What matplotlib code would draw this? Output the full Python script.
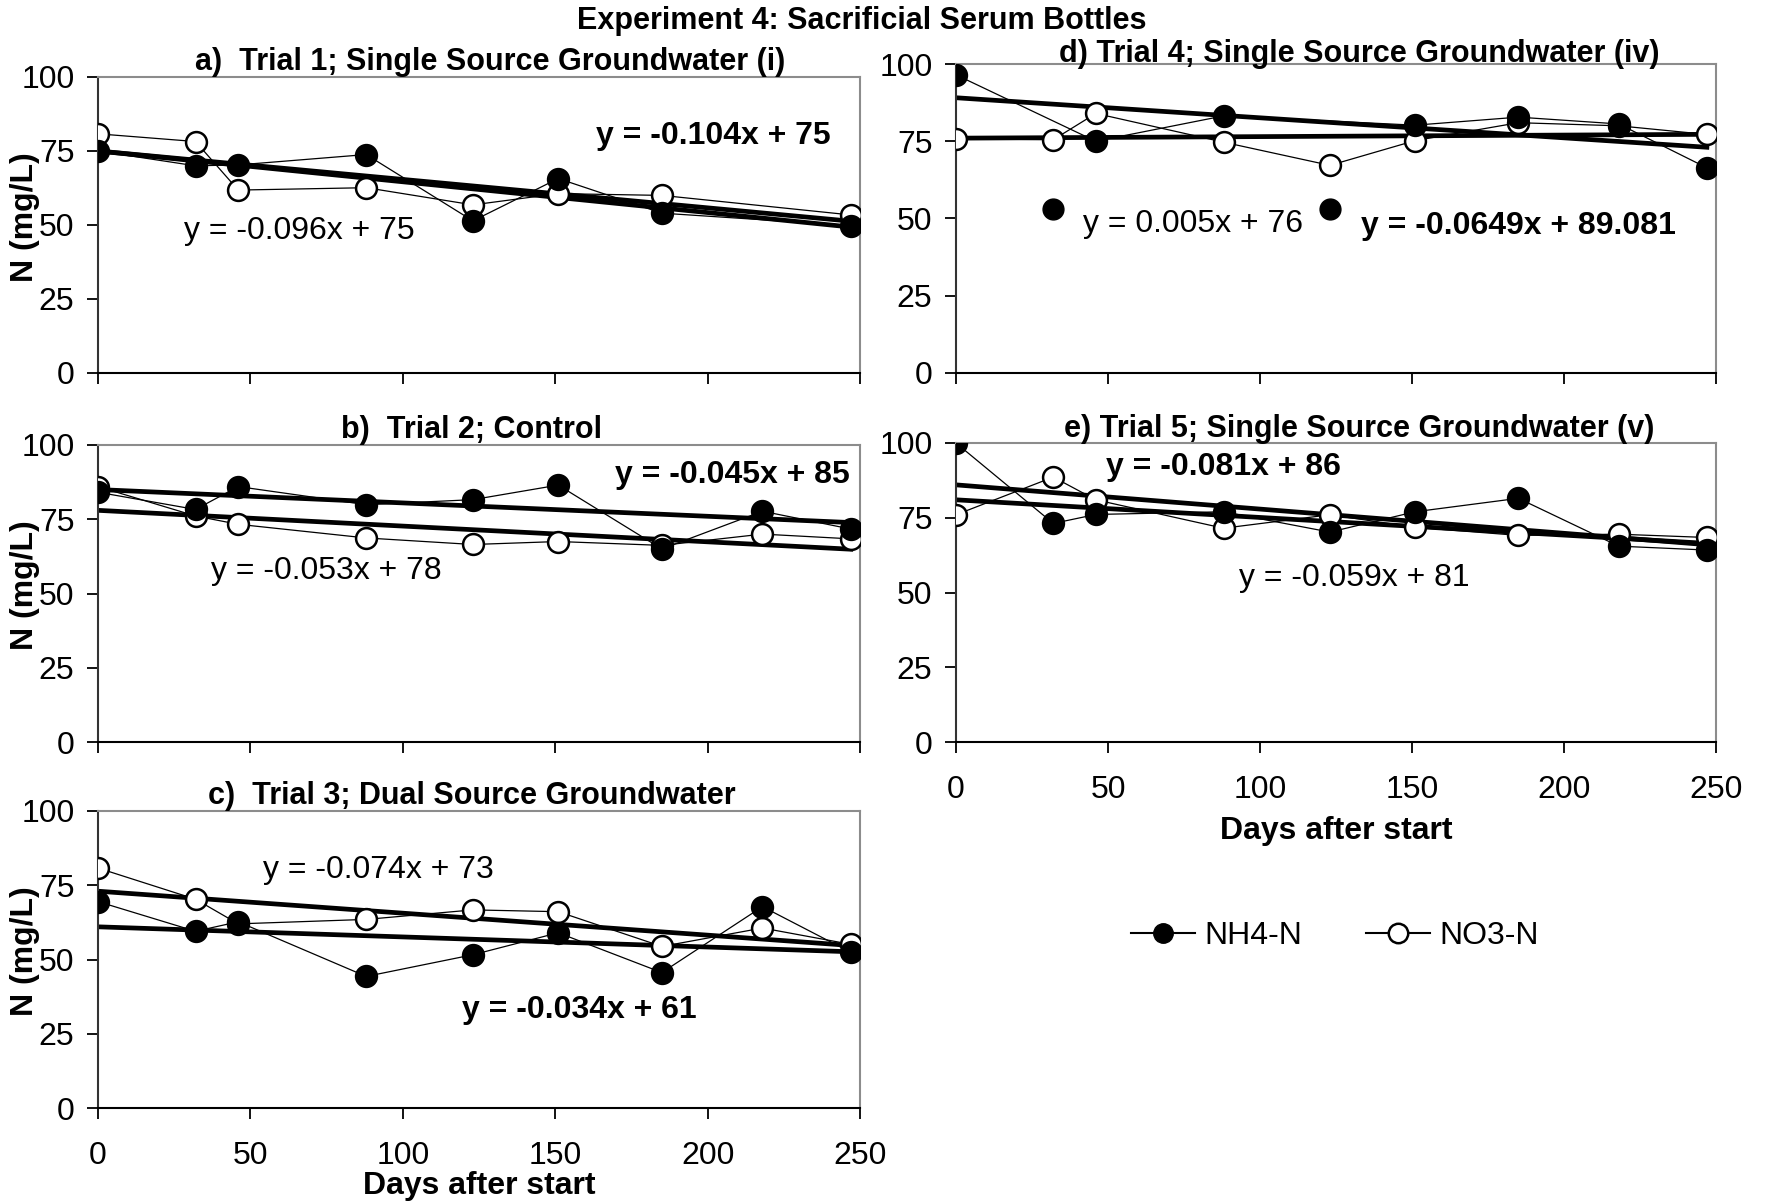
import numpy as np
import matplotlib
matplotlib.use("Agg")
import matplotlib.pyplot as plt
from matplotlib.lines import Line2D

plt.rcParams['font.family'] = ['Liberation Sans', 'DejaVu Sans']

# sampling days
days = [0, 32, 46, 88, 123, 151, 185, 218, 247]

# Trial 1 (no sample on day 218)
days_a = [0, 32, 46, 88, 123, 151, 185, 247]
nh4_a = [75.0, 70.0, 70.3, 73.8, 51.4, 65.7, 54.0, 49.8]
no3_a = [80.8, 78.2, 61.8, 62.6, 56.8, 60.6, 60.0, 53.4]

# Trial 2 (control)
nh4_b = [84.1, 78.3, 86.0, 79.9, 81.6, 86.5, 65.0, 77.7, 71.7]
no3_b = [86.0, 76.1, 73.3, 68.7, 66.5, 67.5, 66.2, 70.0, 68.4]

# Trial 3 (dual source)
nh4_c = [69.5, 59.5, 62.7, 44.3, 51.6, 59.0, 45.6, 67.8, 52.4]
no3_c = [80.8, 70.3, 62.0, 63.5, 66.7, 66.1, 54.4, 60.6, 55.1]

# Trial 4: NH4 on days 32 and 123 plotted apart, not joined
days_d = [0, 46, 88, 151, 185, 218, 247]
nh4_d = [96.5, 75.0, 83.2, 80.2, 82.8, 80.6, 66.4]
days_d_out = [32, 123]
nh4_d_out = [53.0, 53.0]
no3_d = [75.8, 75.5, 84.0, 74.7, 67.2, 75.2, 81.0, 80.0, 77.2]

# Trial 5
nh4_e = [100.0, 73.1, 76.1, 77.0, 70.2, 77.0, 81.5, 65.5, 64.2]
no3_e = [76.0, 88.6, 81.0, 71.5, 76.0, 71.8, 69.1, 69.5, 68.4]

# linear fits (slope, intercept): NH4 then NO3
fit_nh4 = {'a': (-0.104, 75), 'b': (-0.045, 85), 'c': (-0.034, 61),
           'd': (-0.0649, 89.081), 'e': (-0.081, 86)}
fit_no3 = {'a': (-0.096, 75), 'b': (-0.053, 78), 'c': (-0.074, 73),
           'd': (0.005, 76), 'e': (-0.059, 81)}
eq_nh4 = {'a': 'y = -0.104x + 75', 'b': 'y = -0.045x + 85', 'c': 'y = -0.034x + 61',
          'd': 'y = -0.0649x + 89.081', 'e': 'y = -0.081x + 86'}
eq_no3 = {'a': 'y = -0.096x + 75', 'b': 'y = -0.053x + 78', 'c': 'y = -0.074x + 73',
          'd': 'y = 0.005x + 76', 'e': 'y = -0.059x + 81'}
# where the equations sit (day, N)
pos_nh4 = {'a': (202, 80), 'b': (208, 90), 'c': (158, 33), 'd': (185, 47.5), 'e': (88, 92)}
pos_no3 = {'a': (66, 48), 'b': (75, 57.5), 'c': (92, 80), 'd': (78, 48.2), 'e': (131, 55)}

titles = {'a': 'a)  Trial 1; Single Source Groundwater (i)',
          'b': 'b)  Trial 2; Control',
          'c': 'c)  Trial 3; Dual Source Groundwater',
          'd': 'd) Trial 4; Single Source Groundwater (iv)',
          'e': 'e) Trial 5; Single Source Groundwater (v)'}
# title centre: (axes fraction x, offset above the top spine in points)
title_pos = {'a': (0.515, 11), 'b': (0.49, 11), 'c': (0.49, 11),
             'd': (0.53, 7), 'e': (0.53, 10)}

W, H = 1766, 1202
fig = plt.figure(figsize=(W / 100, H / 100), dpi=100)


def px_axes(left, top, right, bottom):
    return fig.add_axes([left / W, 1 - bottom / H, (right - left) / W, (bottom - top) / H])


boxes = {'a': (98, 77, 860, 373), 'b': (98, 445, 860, 742), 'c': (98, 811, 860, 1108),
         'd': (956, 64, 1716, 373), 'e': (956, 443, 1716, 742)}

FS = 23
TFS = 22
ms = 15

def series(ax, x, y, filled):
    ax.plot(x, y, color='black', lw=0.9, marker='o', ms=ms,
            mfc='black' if filled else 'white', mec='black', mew=1.8, zorder=3)


axes = {}
for k, box in boxes.items():
    ax = px_axes(*box)
    axes[k] = ax
    ax.set_xlim(0, 250)
    ax.set_ylim(0, 100)
    ax.set_xticks([0, 50, 100, 150, 200, 250])
    ax.set_yticks([0, 25, 50, 75, 100])
    ax.tick_params(axis='both', direction='out', length=8, width=1.3, labelsize=FS)
    ax.tick_params(axis='y', pad=9)
    ax.tick_params(axis='x', pad=16)
    ax.spines['left'].set_color('#333333')
    ax.spines['bottom'].set_color('black')
    ax.spines['left'].set_linewidth(1.5)
    ax.spines['bottom'].set_linewidth(1.5)
    for s in ('top', 'right'):
        ax.spines[s].set_color('#8c8c8c')
        ax.spines[s].set_linewidth(1.5)
    if k not in ('c', 'e'):
        ax.set_xticklabels([])

    # trend lines over the sampling period
    xs = np.array([0, 247])
    m, b = fit_nh4[k]
    ax.plot(xs, m * xs + b, color='black', lw=3.4, zorder=2)
    m, b = fit_no3[k]
    ax.plot(xs, m * xs + b, color='black', lw=3.4, zorder=2)

    ax.text(*pos_nh4[k], eq_nh4[k], fontsize=FS, fontweight='bold', ha='center', va='center')
    ax.text(*pos_no3[k], eq_no3[k], fontsize=FS, ha='center', va='center')
    tx, toff = title_pos[k]
    ax.annotate(titles[k], xy=(tx, 1.0), xycoords='axes fraction', xytext=(0, toff),
                textcoords='offset points', fontsize=TFS, fontweight='bold',
                ha='center', va='center', zorder=5, annotation_clip=False)

series(axes['a'], days_a, no3_a, False)
series(axes['a'], days_a, nh4_a, True)
series(axes['b'], days, no3_b, False)
series(axes['b'], days, nh4_b, True)
series(axes['c'], days, no3_c, False)
series(axes['c'], days, nh4_c, True)
series(axes['d'], days, no3_d, False)
series(axes['d'], days_d, nh4_d, True)
axes['d'].plot(days_d_out, nh4_d_out, ls='none', marker='o', ms=ms, mfc='black',
               mec='black', zorder=3)
series(axes['e'], days, no3_e, False)
series(axes['e'], days, nh4_e, True)

for k in ('a', 'b', 'c'):
    x0, t, x1, b = boxes[k]
    fig.text(25 / W, 1 - ((t + b) / 2 - 8) / H, 'N (mg/L)', rotation=90, fontsize=FS,
             fontweight='bold', ha='center', va='center')

axes['c'].set_xlabel('Days after start', fontsize=FS, fontweight='bold', labelpad=0)
axes['e'].set_xlabel('Days after start', fontsize=FS, fontweight='bold', labelpad=8)

fig.text(862 / W, 1 - 21 / H, 'Experiment 4: Sacrificial Serum Bottles', fontsize=TFS,
         fontweight='bold', ha='center', va='center')

handles = [Line2D([], [], color='black', lw=1.5, marker='o', ms=14, mfc='black', mec='black'),
           Line2D([], [], color='black', lw=1.5, marker='o', ms=14, mfc='white', mec='black', mew=1.8)]
fig.legend(handles, ['NH4-N', 'NO3-N'], loc='center', bbox_to_anchor=(1335 / W, 1 - 936 / H),
           ncol=2, frameon=False, fontsize=FS, handlelength=2.0, handletextpad=0.3,
           columnspacing=2.0)

fig.savefig('out.png', dpi=100)
